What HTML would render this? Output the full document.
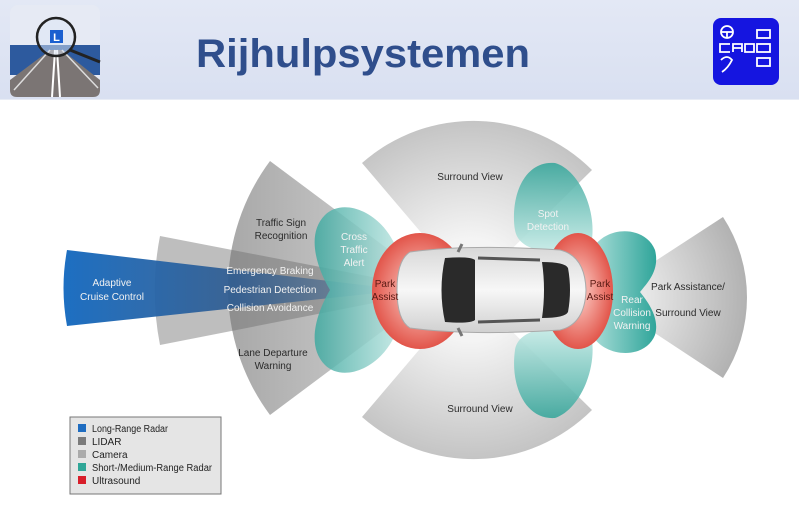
<!DOCTYPE html>
<html><head><meta charset="utf-8"><style>
html,body{margin:0;padding:0;background:#fff;}
svg{display:block;font-family:"Liberation Sans",sans-serif;}
</style></head><body>
<svg width="799" height="516" viewBox="0 0 799 516" xmlns="http://www.w3.org/2000/svg">
<defs>
<linearGradient id="hdr" x1="0" y1="0" x2="0" y2="1"><stop offset="0" stop-color="#e3e8f5"/><stop offset="1" stop-color="#d9e0f1"/></linearGradient>
<linearGradient id="blue" x1="0" y1="0" x2="1" y2="0"><stop offset="0" stop-color="#1d6fc2"/><stop offset="0.5" stop-color="#2c5a90" stop-opacity="0.9"/><stop offset="1" stop-color="#4a6a8a" stop-opacity="0.3"/></linearGradient>
<linearGradient id="cam" x1="0" y1="0" x2="1" y2="0"><stop offset="0" stop-color="#a8a8a8"/><stop offset="1" stop-color="#d8d8d8"/></linearGradient>
<radialGradient id="sv" cx="470" cy="290" r="170" gradientUnits="userSpaceOnUse"><stop offset="0.3" stop-color="#f4f4f4"/><stop offset="1" stop-color="#c4c4c4"/></radialGradient>
<radialGradient id="rcam" cx="600" cy="297" r="150" gradientUnits="userSpaceOnUse"><stop offset="0.3" stop-color="#e8e8e8"/><stop offset="1" stop-color="#b0b0b0"/></radialGradient>
<linearGradient id="teal" x1="0" y1="0" x2="1" y2="0"><stop offset="0" stop-color="#3fa9a0"/><stop offset="1" stop-color="#bfe6e2"/></linearGradient>
<linearGradient id="tealR" x1="1" y1="0" x2="0" y2="0"><stop offset="0" stop-color="#2fa59a"/><stop offset="1" stop-color="#a9ddd8"/></linearGradient>
<linearGradient id="tealS" x1="0" y1="0" x2="0" y2="1"><stop offset="0" stop-color="#3aa79c"/><stop offset="1" stop-color="#c9ece8"/></linearGradient>
<linearGradient id="tealS2" x1="0" y1="1" x2="0" y2="0"><stop offset="0" stop-color="#3aa79c"/><stop offset="1" stop-color="#c9ece8"/></linearGradient>
<radialGradient id="red"><stop offset="0.3" stop-color="#f6b0a8"/><stop offset="1" stop-color="#e2554a"/></radialGradient>
<linearGradient id="car" x1="0" y1="0" x2="0" y2="1"><stop offset="0" stop-color="#d8d8d8"/><stop offset="0.5" stop-color="#f7f7f7"/><stop offset="1" stop-color="#d0d0d0"/></linearGradient>
</defs>

<rect x="0" y="0" width="799" height="99" fill="url(#hdr)"/>
<rect x="0" y="99" width="799" height="1" fill="#e8ecf5"/>
<rect x="10" y="5" width="90" height="92" rx="8" fill="#e6eaf4"/>
<rect x="10" y="45" width="90" height="30" fill="#2d5a9e"/>
<path d="M10,90 L10,80 L50,50 L62,50 L100,80 L100,90 Q100,97 93,97 L17,97 Q10,97 10,90Z" fill="#7b7574"/>
<path d="M55,50 L52,97 M57,50 L60,97" stroke="#fff" stroke-width="2"/>
<path d="M50,50 L14,90 M62,50 L98,88" stroke="#ddd" stroke-width="1.5"/>
<circle cx="56" cy="37" r="19" fill="rgba(220,230,245,0.5)" stroke="#222" stroke-width="2.5"/>
<line x1="70" y1="50" x2="100" y2="62" stroke="#222" stroke-width="3"/>
<rect x="50" y="30" width="13" height="13" fill="#1a5fd0"/>
<text x="56.5" y="41" font-size="11" font-weight="bold" fill="#fff" text-anchor="middle">L</text>
<text x="196" y="67" font-size="40" font-weight="bold" fill="#2f4e8c" textLength="334" lengthAdjust="spacingAndGlyphs">Rijhulpsystemen</text>
<rect x="713" y="18" width="66" height="67" rx="8" fill="#1515e0"/>
<g stroke="#fff" stroke-width="1.8" fill="none">
<circle cx="727" cy="32" r="6"/><line x1="721" y1="32" x2="733" y2="32"/><line x1="727" y1="32" x2="727" y2="38"/>
<rect x="757" y="30" width="13" height="8"/><rect x="757" y="44" width="13" height="8"/><rect x="757" y="58" width="13" height="8"/>
<path d="M730,44 L720,44 L720,52 L730,52"/><path d="M733,52 L733,44 L742,44 L742,52 M733,48 L742,48"/><path d="M745,44 L745,52 L754,52 L754,44 Z"/>
<path d="M721,60 Q727,54 732,60 Q728,68 722,72"/>
</g>

<path d="M470,290 L362,163 A168,168 0 0 1 592,170 Z" fill="url(#sv)"/>
<path d="M470,290 L362,417 A168,168 0 0 0 592,410 Z" fill="url(#sv)"/>
<path d="M440,288 L270,161 A213,213 0 0 0 270,415 Z" fill="url(#cam)"/>
<path d="M440,290 L160,236 A285,285 0 0 0 160,345 Z" fill="#6f6f6f" opacity="0.45"/>
<path d="M405,290 L67,250 Q60,288 67,326 Z" fill="url(#blue)"/>
<path d="M600,297 L723,217 A147,147 0 0 1 723,378 Z" fill="url(#rcam)"/>
<path d="M400,260 C390,215 345,195 325,215 C305,235 318,270 330,290 C318,310 305,345 325,365 C345,385 390,365 400,320 Z" fill="url(#teal)" opacity="0.85"/>
<path d="M590,250 C600,215 580,170 555,163 C525,160 510,195 515,230 C518,248 540,255 590,255 Z" fill="url(#tealS)" opacity="0.9"/>
<path d="M590,330 C600,365 580,410 555,418 C525,420 510,385 515,350 C518,332 540,325 590,325 Z" fill="url(#tealS2)" opacity="0.9"/>
<path d="M592,250 C605,225 645,225 655,250 C660,270 648,282 640,292 C648,302 660,318 655,335 C645,360 605,358 592,335 Z" fill="url(#tealR)"/>
<ellipse cx="420" cy="291" rx="48" ry="58" fill="url(#red)"/>
<ellipse cx="578" cy="291" rx="35" ry="58" fill="url(#red)"/>
<path d="M410,252 Q470,244 560,250 Q585,256 586,290 Q585,324 560,330 Q470,336 410,328 Q397,320 397,290 Q397,260 410,252 Z" fill="url(#car)" stroke="#aaa" stroke-width="1"/>
<path d="M445,258 Q470,256 475,260 L475,320 Q470,324 445,322 Q438,290 445,258 Z" fill="#2a2a2a"/>
<path d="M542,262 Q565,262 568,268 Q572,290 568,312 Q565,318 542,318 Q546,290 542,262 Z" fill="#2a2a2a"/>
<path d="M478,258 L540,260 M478,322 L540,320" stroke="#555" stroke-width="3"/>
<path d="M458,252 L462,244 M458,328 L462,336" stroke="#777" stroke-width="3"/>

<g font-size="10" fill="#2b2b2b" text-anchor="middle">
<text x="470" y="180">Surround View</text>
<text x="480" y="412">Surround View</text>
<text x="281" y="226">Traffic Sign</text><text x="281" y="239">Recognition</text>
<text x="273" y="356">Lane Departure</text><text x="273" y="369">Warning</text>
<text x="688" y="290">Park Assistance/</text>
<text x="688" y="316">Surround View</text>
</g>
<g font-size="10" fill="#f2f2f2" text-anchor="middle">
<text x="270" y="274">Emergency Braking</text>
<text x="270" y="293">Pedestrian Detection</text>
<text x="270" y="311">Collision Avoidance</text>
<text x="112" y="286">Adaptive</text><text x="112" y="300">Cruise Control</text>
<text x="354" y="240">Cross</text><text x="354" y="253">Traffic</text><text x="354" y="266">Alert</text>
<text x="548" y="217">Spot</text><text x="548" y="230">Detection</text>
<text x="632" y="303">Rear</text><text x="632" y="316">Collision</text><text x="632" y="329">Warning</text>
</g>
<g font-size="10" fill="#5a1a14" text-anchor="middle">
<text x="385" y="287">Park</text><text x="385" y="300">Assist</text>
<text x="600" y="287">Park</text><text x="600" y="300">Assist</text>
</g>

<rect x="70" y="417" width="151" height="77" fill="#e5e5e5" stroke="#777" stroke-width="1"/>
<rect x="78" y="424" width="8" height="8" fill="#1e6cc0"/>
<rect x="78" y="437" width="8" height="8" fill="#7b7b7b"/>
<rect x="78" y="450" width="8" height="8" fill="#ababab"/>
<rect x="78" y="463" width="8" height="8" fill="#2fa697"/>
<rect x="78" y="476" width="8" height="8" fill="#d81e2a"/>
<g font-size="10" fill="#222">
<text x="92" y="432" textLength="76" lengthAdjust="spacingAndGlyphs">Long-Range Radar</text>
<text x="92" y="445">LIDAR</text>
<text x="92" y="458">Camera</text>
<text x="92" y="471" textLength="120" lengthAdjust="spacingAndGlyphs">Short-/Medium-Range Radar</text>
<text x="92" y="484">Ultrasound</text>
</g>
</svg>
</body></html>
